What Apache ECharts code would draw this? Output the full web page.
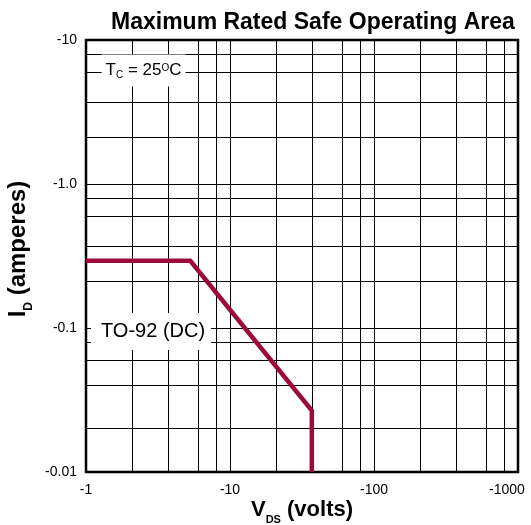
<!DOCTYPE html>
<html><head><meta charset="utf-8">
<script src="https://cdn.jsdelivr.net/npm/echarts@6/dist/echarts.min.js"></script>
<style>html,body{margin:0;padding:0;background:#fff;overflow:hidden}#c{width:531px;height:525px}</style>
</head><body><div id="c"></div>
<script>
// Data (negative P-channel values)
const vdsVolts = [-1, -5.3, -37, -37];
const idAmps = [-0.293, -0.293, -0.0267, -0.01];
const xTickValues = [-1, -10, -100, -1000];
const xTickLabels = ['-1', '-10', '-100', '-1000'];
const yTickValues = [-0.01, -0.1, -1, -10];
const yTickLabels = ['-0.01', '-0.1', '-1.0', '-10'];
const gridDecadesX = [1, 10, 100];
const gridDecadesY = [0.01, 0.1, 1];
const gridFactors = [1, 2.1, 3.7, 6, 8];

const FONT = 'Liberation Sans, Arial, Helvetica, sans-serif';

function gridValues(decades, min) {
  const out = [];
  decades.forEach(d => gridFactors.forEach(f => {
    const v = +(d * f).toPrecision(6);
    if (v > min * 1.0001) out.push(v);
  }));
  return out;
}
function labelFor(values, labels, v, rich) {
  for (let i = 0; i < values.length; i++) {
    if (Math.abs(Math.log10(Math.abs(values[i])) - Math.log10(v)) < 1e-6) {
      if (rich && i === values.length - 1) return '{e|' + labels[i] + '}';
      return labels[i];
    }
  }
  return '';
}

const xs = gridValues(gridDecadesX, 1);
const ys = gridValues(gridDecadesY, 0.01);

const chart = echarts.init(document.getElementById('c'), null, {renderer: 'canvas', width: 531, height: 525});
chart.setOption({
  animation: false,
  backgroundColor: '#fff',
  title: {
    text: 'Maximum Rated Safe Operating Area',
    left: 111, top: 11, padding: 0,
    textStyle: {fontFamily: FONT, fontSize: 23, fontWeight: 'bold', color: '#000'}
  },
  grid: {left: 86, width: 432, top: 40, height: 432, outerBoundsMode: 'none', containLabel: false,
         show: true, borderColor: '#000', borderWidth: 2.5, backgroundColor: 'transparent'},
  xAxis: {
    type: 'log', logBase: 10,
    min: Math.abs(xTickValues[0]), max: Math.abs(xTickValues[xTickValues.length - 1]),
    axisLine: {show: false}, axisTick: {show: false}, splitLine: {show: false},
    axisLabel: {
      margin: 11, fontFamily: FONT, fontSize: 14, color: '#000',
      formatter: v => labelFor(xTickValues, xTickLabels, v, true),
      rich: {e: {fontFamily: FONT, fontSize: 14, color: '#000', padding: [0, 22, 0, 0]}}
    },
    name: '{m|V}{s|DS}{m| (volts)}',
    nameLocation: 'middle', nameGap: 22, nameMoveOverlap: false,
    nameTextStyle: {
      rich: {
        m: {fontFamily: FONT, fontSize: 22, fontWeight: 'bold', color: '#000', lineHeight: 26},
        s: {fontFamily: FONT, fontSize: 11, fontWeight: 'bold', color: '#000', padding: [20, 0, 0, 0]}
      }
    }
  },
  yAxis: {
    type: 'log', logBase: 10,
    min: Math.abs(yTickValues[0]), max: Math.abs(yTickValues[yTickValues.length - 1]),
    axisLine: {show: false}, axisTick: {show: false}, splitLine: {show: false},
    axisLabel: {
      margin: 9, fontFamily: FONT, fontSize: 14, color: '#000',
      formatter: v => labelFor(yTickValues, yTickLabels, v, false)
    },
    name: '{m|I}{s|D}{m| (amperes)}',
    nameLocation: 'middle', nameGap: 51, nameMoveOverlap: false,
    nameTextStyle: {
      padding: [0, 0, 0, 14],
      rich: {
        m: {fontFamily: FONT, fontSize: 24, fontWeight: 'bold', color: '#000', lineHeight: 28},
        s: {fontFamily: FONT, fontSize: 12, fontWeight: 'bold', color: '#000', padding: [21, 0, 0, 0]}
      }
    }
  },
  series: [
    {
      type: 'line', data: [], z: 1, silent: true,
      markLine: {
        silent: true, z: 1, symbol: ['none', 'none'], animation: false,
        label: {show: false},
        lineStyle: {color: '#000', width: 1, type: 'solid'},
        emphasis: {disabled: true},
        data: xs.map(v => ({xAxis: v})).concat(ys.map(v => ({yAxis: v})))
      }
    },
    {
      type: 'line', z: 5, symbol: 'none', silent: true,
      data: vdsVolts.map((v, i) => [Math.abs(v), Math.abs(idAmps[i])]),
      lineStyle: {color: '#9b0a3a', width: 4.5, join: 'miter', cap: 'butt'}
    },
    {
      type: 'scatter', z: 10, symbolSize: 0.1, silent: true,
      itemStyle: {color: 'transparent', opacity: 1},
      label: {
        show: true, position: 'inside', backgroundColor: '#fff', opacity: 1,
        color: '#000', textBorderWidth: 0, textShadowBlur: 0,
        rich: {
          m: {fontFamily: FONT, fontSize: 17, color: '#000', lineHeight: 20, textBorderWidth: 0},
          sub: {fontFamily: FONT, fontSize: 10, color: '#000', padding: [10, 0, 0, 0], textBorderWidth: 0},
          sup: {fontFamily: FONT, fontSize: 10, color: '#000', padding: [0, 0, 5, 0], textBorderWidth: 0},
          t: {fontFamily: FONT, fontSize: 20, color: '#000', lineHeight: 21, textBorderWidth: 0}
        }
      },
      data: [
        {value: [2.51, 6.15], label: {formatter: '{m|T}{sub|C}{m| = 25}{sup|O}{m|C}', padding: [6, 4, 6, 4]}},
        {value: [2.83, 0.0946], label: {formatter: '{t|TO-92 (DC)}', padding: [8, 6, 8, 10]}}
      ]
    }
  ]
});
</script></body></html>
